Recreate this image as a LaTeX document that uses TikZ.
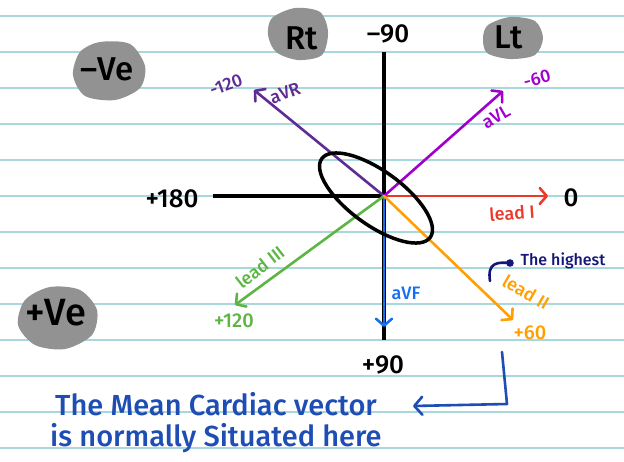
\documentclass[tikz,border=0pt]{standalone}
\usepackage{fontspec}
\setmainfont{Fira Sans Medium}
\usepackage{xcolor}
\usepackage{tikz}
\usetikzlibrary{arrows.meta}

\definecolor{rulecol}{HTML}{A9D8DC}
\definecolor{blobgray}{HTML}{929292}
\definecolor{leadIcol}{HTML}{EC3A2A}
\definecolor{aVRcol}{HTML}{5E2C93}
\definecolor{aVLcol}{HTML}{A100CC}
\definecolor{leadIIIcol}{HTML}{5DB643}
\definecolor{aVFcol}{HTML}{1570F0}
\definecolor{leadIIcol}{HTML}{FFA000}
\definecolor{navycol}{HTML}{16167A}
\definecolor{notecol}{HTML}{1E4DB3}

\begin{document}
\begin{tikzpicture}[x=1pt,y=-1pt,
  axisline/.style={line width=3.5pt},
  leadarrow/.style={line width=2.6pt, line cap=round,
    -{Straight Barb[length=7pt,width=16pt,line width=2.6pt,round]}},
  big/.style={font=\fontsize{26}{26}\selectfont, inner sep=0pt},
  side/.style={font=\fontsize{33}{33}\selectfont, inner sep=0pt},
  small/.style={font=\fontsize{18}{18}\selectfont, inner sep=0pt},
  note/.style={font=\fontsize{29}{29}\selectfont, inner sep=0pt, text=notecol}]

\useasboundingbox (0,0) rectangle (624,461);
\fill[white] (0,0) rectangle (624,461);
\foreach \y in {16,52,...,448}
  \draw[rulecol, line width=1.6pt] (0,\y) -- (624,\y);

\fill[blobgray] plot[smooth cycle] coordinates {(80,52) (100,42) (130,44) (145,66) (140,88) (115,100) (85,96) (73,75)};
\fill[blobgray] plot[smooth cycle] coordinates {(272,18) (295,8) (320,12) (328,32) (322,55) (298,60) (276,52) (268,35)};
\fill[blobgray] plot[smooth cycle] coordinates {(488,25) (510,17) (535,21) (543,38) (535,55) (510,59) (487,53) (483,38)};
\fill[blobgray] plot[smooth cycle] coordinates {(25,300) (50,287) (80,290) (97,310) (92,335) (65,349) (35,345) (18,325)};

\coordinate (O) at (384,196);
\coordinate (top) at (384,52);
\coordinate (bottom) at (384,340);
\coordinate (left) at (213,196);
\coordinate (Iend) at (548,196);
\coordinate (aVRend) at (254,90);
\coordinate (aVLend) at (503,91);
\coordinate (IIIend) at (235,305);
\coordinate (aVFend) at (384,327);
\coordinate (IIend) at (513,320);

\draw[axisline] (top) -- (bottom);
\draw[axisline] (left) -- (O);
\draw[leadarrow, leadIcol] (O) -- (Iend);
\draw[leadarrow, aVRcol] (O) -- (aVRend);
\draw[leadarrow, aVLcol] (O) -- (aVLend);
\draw[leadarrow, leadIIIcol] (O) -- (IIIend);
\draw[leadarrow, aVFcol] (O) -- (aVFend);
\draw[leadarrow, leadIIcol] (O) -- (IIend);
\draw[axisline, rotate around={-36:(376,198)}] (376,198) ellipse (67 and 27);

\node[side] (rt) at (302,38) {Rt};
\node[side] (lt) at (509,37) {Lt};
\node[side] (neg) at (107,69) {--Ve};
\node[side, font=\fontsize{38}{38}\selectfont] (pos) at (56,313) {+Ve};
\node[big] (m90) at (388,34) {--90};
\node[big] (p180) at (172,199) {+180};
\node[big] (zero) at (571,198) {0};
\node[big] (p90) at (383,365) {+90};

\node[small, text=leadIcol, rotate=4] (leadI) at (512,213) {lead I};
\node[small, text=aVRcol, rotate=20] (m120) at (226,85) {-120};
\node[small, text=aVRcol, rotate=20] (aVR) at (285,93) {aVR};
\node[small, text=aVLcol, rotate=15] (m60) at (537,79) {-60};
\node[small, text=aVLcol, rotate=30] (aVL) at (496,117) {aVL};
\node[small, text=leadIIIcol, rotate=38] (leadIII) at (260,267) {lead III};
\node[small, text=leadIIIcol, font=\fontsize{20}{20}\selectfont] (p120) at (234,321) {+120};
\node[small, text=aVFcol] (aVF) at (406,293) {aVF};
\node[small, text=leadIIcol, rotate=-30] (leadII) at (526,292) {lead II};
\node[small, text=leadIIcol, font=\fontsize{20}{20}\selectfont] (p60) at (530,333) {+60};
\node[small, text=navycol, font=\fontsize{16}{16}\selectfont] (highest) at (563,261) {The highest};

\coordinate (hstart) at (490,281);
\coordinate (hdot) at (510,263);
\draw[navycol, line width=2.6pt, line cap=round] (hstart) .. controls (487,262) and (498,262) .. (hdot);
\fill[navycol] (hdot) circle (3.8);

\node[note, anchor=west] (mean1) at (55,404) {The Mean Cardiac vector};
\node[note, anchor=west] (mean2) at (50,438) {is normally Situated here};

\coordinate (bstart) at (502,352);
\coordinate (bcorner) at (507,404);
\coordinate (bend) at (413,406);
\draw[notecol, line width=2.6pt, line cap=round, line join=round,
  -{Straight Barb[length=8pt,width=18pt,line width=2.6pt,round]}]
  (bstart) -- (bcorner) -- (bend);
\end{tikzpicture}
\end{document}
